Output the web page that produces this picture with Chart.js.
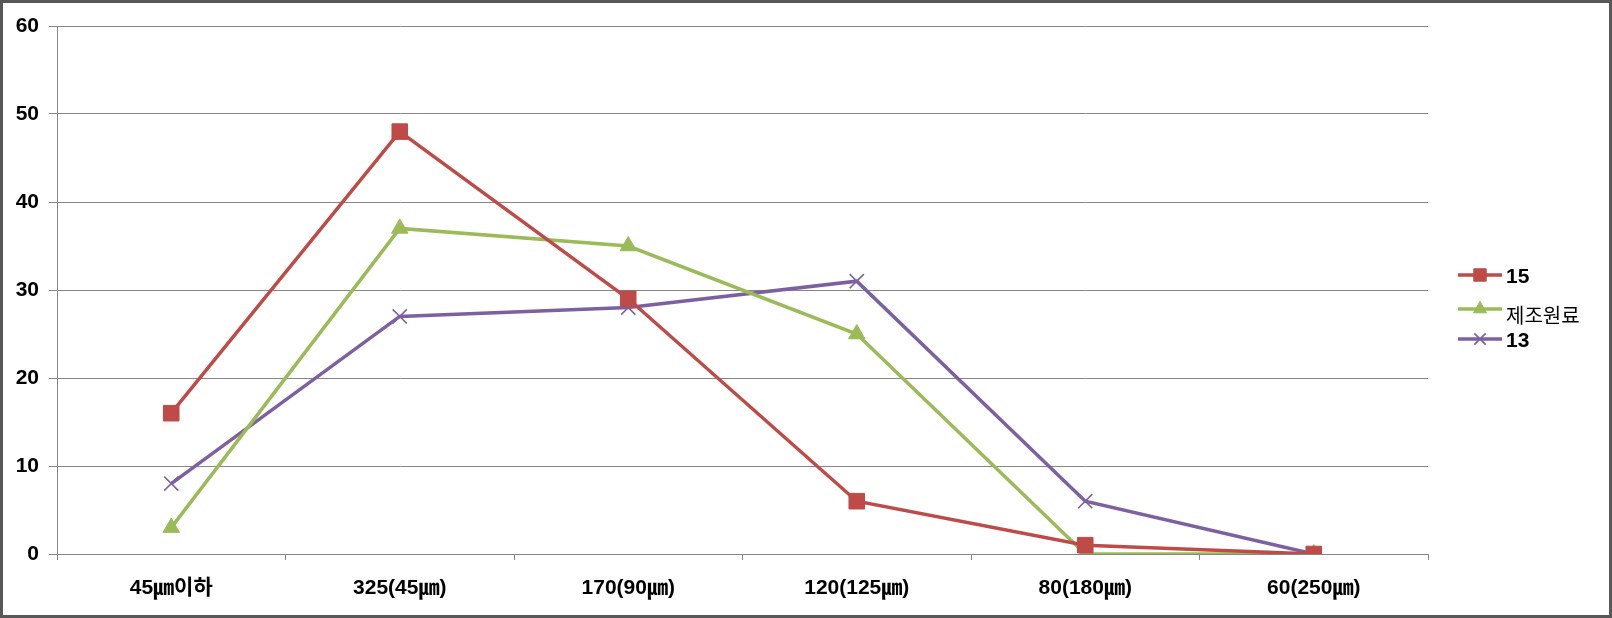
<!DOCTYPE html>
<html>
<head>
<meta charset="utf-8">
<script src="https://cdn.jsdelivr.net/npm/chart.js@4/dist/chart.umd.min.js"></script>
<style>
  html, body { margin: 0; padding: 0; background: #fff; }
  canvas { display: block; }
</style>
</head>
<body>
<canvas id="chart" width="1612" height="618"></canvas>
<script>
// --- DATA ---
const categories = ['45㎛이하', '325(45㎛)', '170(90㎛)', '120(125㎛)', '80(180㎛)', '60(250㎛)'];
const seriesNames = ['15', '제조원료', '13'];
const values15 = [16, 48, 29, 6, 1, 0];
const valuesRaw = [3, 37, 35, 25, 0, 0];
const values13 = [8, 27, 28, 31, 6, 0];
const yTicks = [0, 10, 20, 30, 40, 50, 60];

const GRID = '#868686';
const FONT = "'Liberation Sans', 'Noto Sans CJK KR', sans-serif";

// --- LEGEND (line + marker, drawn on the right) ---
const legendRows = [275, 309, 339];
const sideLegend = {
    id: 'sideLegend',
    afterDraw(chart) {
        const ctx = chart.ctx;
        const x0 = 1458, x1 = 1502;
        chart.data.datasets.forEach((ds, i) => {
            const y = legendRows[i];
            ctx.save();
            ctx.strokeStyle = ds.borderColor;
            ctx.fillStyle = ds.borderColor;
            ctx.lineWidth = ds.borderWidth;
            ctx.beginPath();
            ctx.moveTo(x0, y);
            ctx.lineTo(x1, y);
            ctx.stroke();
            ctx.lineWidth = ds.pointBorderWidth;
            Chart.helpers.drawPoint(ctx, {
                pointStyle: ds.pointStyle,
                radius: ds.pointRadius * 0.8,
                borderWidth: ds.pointBorderWidth
            }, (x0 + x1) / 2, y);
            ctx.fillStyle = '#000';
            ctx.textBaseline = 'middle';
            const hangul = /[\uac00-\ud7a3]/.test(ds.label);
            ctx.font = (hangul ? 'normal 20px ' : 'bold 21px ') + FONT;
            ctx.fillText(ds.label, x1 + 4, y + (hangul ? 8 : 2));
            ctx.restore();
        });
    }
};

// --- OUTER FRAME ---
const frame = {
    id: 'frame',
    afterDraw(chart) {
        const ctx = chart.ctx;
        ctx.save();
        ctx.strokeStyle = '#585858';
        ctx.lineWidth = 3;
        ctx.strokeRect(1.5, 1.5, chart.width - 3, chart.height - 3);
        ctx.restore();
    }
};

function series(label, data, color, style, radius, bw) {
    return {
        label: label,
        data: data,
        borderColor: color,
        backgroundColor: color,
        pointBackgroundColor: color,
        pointBorderColor: color,
        borderWidth: 3.5,
        pointStyle: style,
        pointRadius: radius,
        pointHoverRadius: radius,
        pointBorderWidth: bw,
        fill: false,
        tension: 0
    };
}

new Chart(document.getElementById('chart').getContext('2d'), {
    type: 'line',
    data: {
        labels: categories,
        datasets: [
            series(seriesNames[0], values15, '#BE4B48', 'rect', 11, 1),
            series(seriesNames[1], valuesRaw, '#9BBB59', 'triangle', 9.5, 1),
            series(seriesNames[2], values13, '#7D60A0', 'crossRot', 10, 1.6)
        ]
    },
    options: {
        responsive: false,
        animation: false,
        layout: { padding: { top: 26, left: 0, right: 184, bottom: 0 } },
        plugins: {
            legend: { display: false },
            tooltip: { enabled: false }
        },
        scales: {
            x: {
                offset: true,
                afterFit: s => { s.height = 64; },
                grid: {
                    display: true, drawOnChartArea: false, drawTicks: true,
                    tickLength: 6, offset: true, color: GRID
                },
                border: { display: true, color: GRID, width: 1 },
                ticks: {
                    color: '#000', padding: 16,
                    font: { family: FONT, size: 21, weight: 'bold' },
                    maxRotation: 0, autoSkip: false
                }
            },
            y: {
                min: yTicks[0],
                max: yTicks[yTicks.length - 1],
                afterFit: s => { s.width = 57; },
                afterBuildTicks: s => { s.ticks = yTicks.map(v => ({ value: v })); },
                grid: { color: GRID, tickLength: 8, drawTicks: true },
                border: { display: true, color: GRID, width: 1 },
                ticks: {
                    color: '#000', padding: 10,
                    font: { family: FONT, size: 21, weight: 'bold' }
                }
            }
        }
    },
    plugins: [sideLegend, frame]
});
</script>
</body>
</html>
